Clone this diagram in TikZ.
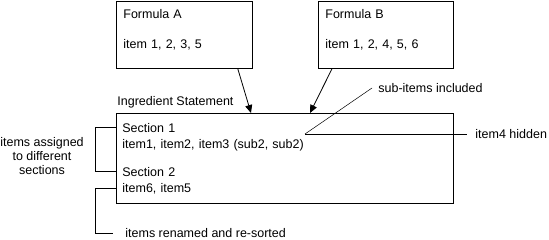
\documentclass[tikz,border=0pt]{standalone}
\usepackage{fontspec}
\setmainfont{Liberation Sans}
\usepackage{tikz}
\usetikzlibrary{arrows.meta,positioning}

\begin{document}
\begin{tikzpicture}[
  x=1pt, y=-1pt,
  font=\fontsize{12.5}{16}\selectfont,
  box/.style={draw, thick, align=left, anchor=north west, inner ysep=3pt},
  txt/.style={inner sep=3pt},
  arrow/.style={-{Triangle[length=8pt,width=7pt]}},
  line width=0.8pt,
]
\useasboundingbox (0,0) rectangle (549,240);
\node[box, text width=122pt, inner xsep=7pt, minimum height=67pt] (formA) at (116,1) {Formula A\\[14pt]item 1, 2, 3, 5\\[-5pt]\mbox{}};
\node[box, text width=121pt, inner xsep=7pt, minimum height=67pt] (formB) at (318,1) {Formula B\\[14pt]item 1, 2, 4, 5, 6\\[-5pt]\mbox{}};
\node[box, text width=325pt, inner xsep=6pt, minimum height=90pt] (stmt) at (116,113) {Section 1\\item1, item2, item3 (sub2, sub2)\\[12pt]Section 2\\item6, item5};
\node[txt, above right=2pt and -2pt of stmt.north west] (title) {Ingredient Statement};
\draw[arrow] ([xshift=-15pt]formA.south east) -- ([xshift=135pt]stmt.north west);
\draw[arrow] ([xshift=14pt]formB.south west) -- ([xshift=194pt]stmt.north west);
\node[txt, align=center, font=\fontsize{12.5}{14}\selectfont] (assigned) at (42,156) {items assigned\\to different\\sections};
\draw ([yshift=-14pt]stmt.north west) -- ++(-21,0) |- ([yshift=-58pt]stmt.north west);
\node[txt, anchor=west] (renamed) at (122,233) {items renamed and re-sorted};
\draw ([yshift=-75pt]stmt.north west) -- ++(-21,0) |- ([xshift=-9pt]renamed.west);
\coordinate (subend) at ([xshift=189pt,yshift=-21pt]stmt.north west);
\node[txt, anchor=west] (subs) at (375,88) {sub-items included};
\node[txt, anchor=west] (hidden) at (472,134) {item4 hidden};
\draw[line width=0.5pt] (subend) -- ([xshift=-3pt]subs.west);
\draw (subend) -- ([xshift=-5pt]hidden.west);
\end{tikzpicture}
\end{document}
